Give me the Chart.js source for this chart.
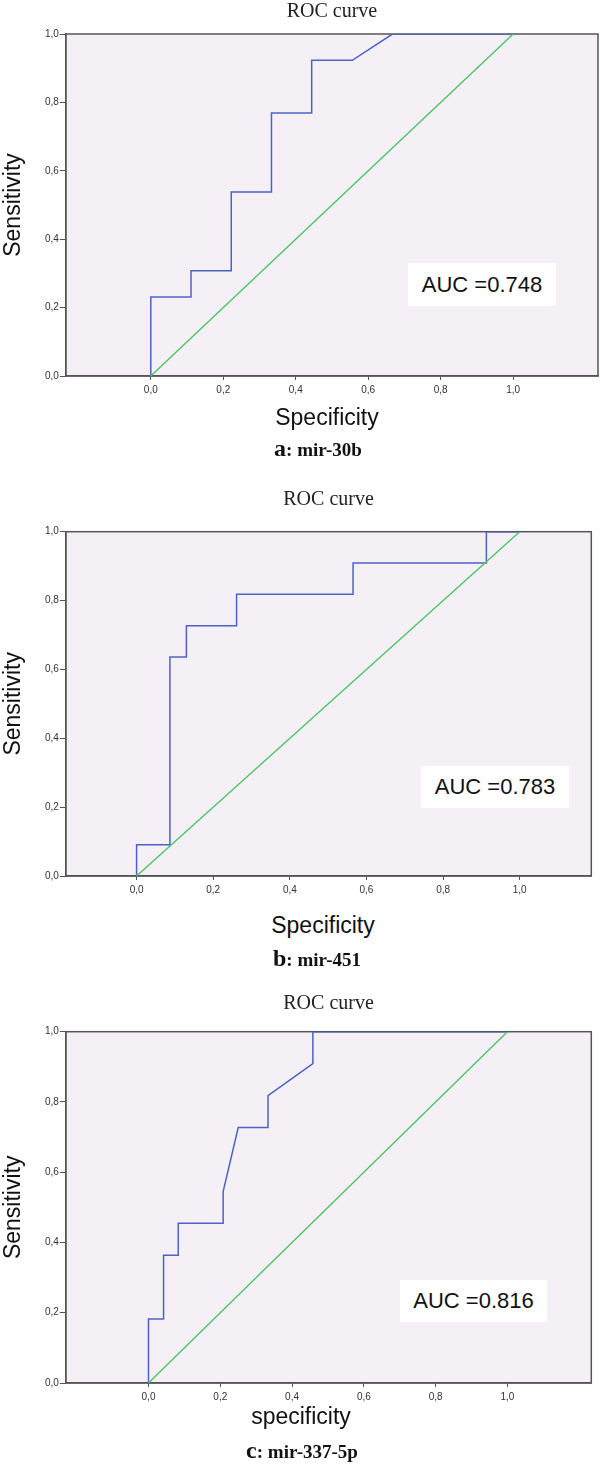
<!DOCTYPE html>
<html>
<head>
<meta charset="utf-8">
<script src="https://cdn.jsdelivr.net/npm/chart.js@4.4.1/dist/chart.umd.min.js"></script>
<style>
  html, body { margin: 0; padding: 0; background: #fff; }
  body { width: 600px; height: 1464px; position: relative; overflow: hidden; }
  .box { position: absolute; left: 0; width: 600px; }
  .t { position: absolute; transform: translate(-50%, -50%); white-space: nowrap; line-height: 1; }
  .xt { font: 23px 'Liberation Sans', Arial, sans-serif; color: #111; }
  .cap { font: bold 19px 'Liberation Serif', 'Times New Roman', serif; color: #111; }
  .cap span { font-size: 24px; }
  .auc { position: absolute; background: #fff; font: 22px 'Liberation Sans', Arial, sans-serif; color: #111;
         display: flex; align-items: center; justify-content: center; }
</style>
</head>
<body>
<div class="box" style="top:0px;height:406px"><canvas id="cA"></canvas></div>
<div class="box" style="top:470px;height:436px"><canvas id="cB"></canvas></div>
<div class="box" style="top:970px;height:443px"><canvas id="cC"></canvas></div>

<div class="t xt" style="left:327px;top:417px">Specificity</div>
<div class="t cap" style="left:318px;top:448px"><span>a</span>: mir-30b</div>
<div class="auc" style="left:408px;top:263px;width:148px;height:43px">AUC =0.748</div>

<div class="t xt" style="left:323px;top:925px">Specificity</div>
<div class="t cap" style="left:317px;top:958px"><span>b</span>: mir-451</div>
<div class="auc" style="left:421px;top:766px;width:148px;height:42px">AUC =0.783</div>

<div class="t xt" style="left:301px;top:1416px">specificity</div>
<div class="t cap" style="left:302px;top:1450px"><span>c</span>: mir-337-5p</div>
<div class="auc" style="left:400px;top:1280px;width:147px;height:42px">AUC =0.816</div>

<script>
// ---- data ----
const tickValues = [0, 0.2, 0.4, 0.6, 0.8, 1.0];
const tickLabels = ['0,0', '0,2', '0,4', '0,6', '0,8', '1,0'];
const chanceX = [0, 1];
const chanceY = [0, 1];

// a: mir-30b
const specA = [0, 0, 0.111, 0.111, 0.222, 0.222, 0.333, 0.333, 0.444, 0.444, 0.556, 0.667, 1.0];
const sensA = [0, 0.231, 0.231, 0.308, 0.308, 0.538, 0.538, 0.769, 0.769, 0.923, 0.923, 1.0, 1.0];

// b: mir-451
const specB = [0, 0, 0.087, 0.087, 0.130, 0.130, 0.261, 0.261, 0.565, 0.565, 0.913, 0.913, 1.0];
const sensB = [0, 0.091, 0.091, 0.636, 0.636, 0.727, 0.727, 0.818, 0.818, 0.909, 0.909, 1.0, 1.0];

// c: mir-337-5p
const specC = [0, 0, 0.042, 0.042, 0.083, 0.083, 0.208, 0.208, 0.250, 0.333, 0.333, 0.458, 0.458, 1.0];
const sensC = [0, 0.182, 0.182, 0.364, 0.364, 0.455, 0.455, 0.545, 0.727, 0.727, 0.818, 0.909, 1.0, 1.0];

// ---- drawing ----
const SANS = "'Liberation Sans', Arial, sans-serif";
const SERIF = "'Liberation Serif', 'Times New Roman', serif";

function pts(xs, ys) { return xs.map((x, i) => ({ x: x, y: ys[i] })); }

const plotFrame = {
  id: 'plotFrame',
  beforeDraw(chart) {
    const { ctx, chartArea: a } = chart;
    ctx.save();
    ctx.fillStyle = '#F4F0F5';
    ctx.fillRect(a.left, a.top, a.right - a.left, a.bottom - a.top);
    ctx.restore();
  },
  beforeDatasetsDraw(chart) {
    const { ctx, chartArea: a } = chart;
    ctx.save();
    ctx.strokeStyle = '#555';
    ctx.lineWidth = 1.5;
    ctx.strokeRect(a.left, a.top, a.right - a.left, a.bottom - a.top);
    ctx.restore();
  }
};

function makeChart(id, xs, ys, L) {
  return new Chart(document.getElementById(id), {
    type: 'scatter',
    data: {
      datasets: [
        { data: pts(chanceX, chanceY), showLine: true, borderColor: '#4CC468', borderWidth: 1.4,
          pointRadius: 0, tension: 0 },
        { data: pts(xs, ys), showLine: true, borderColor: '#4C63C6', borderWidth: 1.5,
          pointRadius: 0, tension: 0 }
      ]
    },
    options: {
      responsive: true,
      maintainAspectRatio: false,
      animation: false,
      layout: { padding: { top: L.padTop, left: 0, right: L.padRight, bottom: 0 } },
      plugins: {
        legend: { display: false },
        tooltip: { enabled: false },
        title: {
          display: true, text: 'ROC curve', fullSize: false, color: '#222',
          font: { family: SERIF, size: 20, weight: 'normal' },
          padding: { top: 0, bottom: L.titleBottom }
        }
      },
      scales: {
        x: {
          type: 'linear', min: L.xmin, max: L.xmax,
          afterBuildTicks(s) { s.ticks = tickValues.map(v => ({ value: v })); },
          afterFit(s) { s.height = 30; },
          grid: { drawOnChartArea: false, drawTicks: true, tickLength: 4, color: '#555' },
          border: { display: true, color: '#555', width: 1.5 },
          ticks: { callback: (v, i) => tickLabels[i], color: '#333', padding: 4, maxRotation: 0,
                   autoSkip: false, font: { family: SANS, size: 10 } }
        },
        y: {
          type: 'linear', min: 0, max: 1,
          afterBuildTicks(s) { s.ticks = tickValues.map(v => ({ value: v })); },
          afterFit(s) { s.width = 65.8; },
          title: { display: true, text: 'Sensitivity', color: '#111', padding: 0,
                   font: { family: SANS, size: 23 } },
          grid: { drawOnChartArea: false, drawTicks: true, tickLength: 6, color: '#555' },
          border: { display: true, color: '#555', width: 1.5 },
          ticks: { callback: (v, i) => tickLabels[i], color: '#333', padding: 1, autoSkip: false,
                   font: { family: SANS, size: 10 } }
        }
      }
    },
    plugins: [plotFrame]
  });
}

makeChart('cA', specA, sensA, { padTop: 0, titleBottom: 10, padRight: 2, xmin: -0.2345, xmax: 1.234 });
makeChart('cB', specB, sensB, { padTop: 18, titleBottom: 19.7, padRight: 8.7, xmin: -0.1848, xmax: 1.1869 });
makeChart('cC', specC, sensC, { padTop: 21.3, titleBottom: 16.4, padRight: 8.7, xmin: -0.2304, xmax: 1.2338 });
</script>
</body>
</html>
